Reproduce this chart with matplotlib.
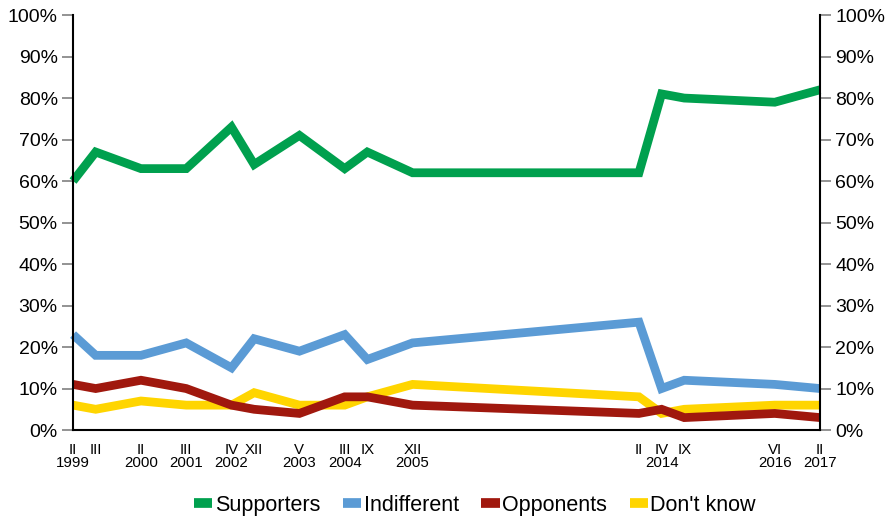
import matplotlib
matplotlib.use("Agg")
import matplotlib.pyplot as plt
from matplotlib.lines import Line2D

plt.rcParams['font.family'] = ['Liberation Sans', 'DejaVu Sans']

# slot index of each survey on the category axis (34 slots, 0..33)
slots = [0, 1, 3, 5, 7, 8, 10, 12, 13, 15, 25, 26, 27, 31, 33]
months = ["II", "III", "II", "III", "IV", "XII", "V", "III", "IX", "XII",
          "II", "IV", "IX", "VI", "II"]
years = ["1999", "", "2000", "2001", "2002", "", "2003", "2004", "", "2005",
         "", "2014", "", "2016", "2017"]

supporters = [60, 67, 63, 63, 73, 64, 71, 63, 67, 62, 62, 81, 80, 79, 82]
indifferent = [23, 18, 18, 21, 15, 22, 19, 23, 17, 21, 26, 10, 12, 11, 10]
opponents = [11, 10, 12, 10, 6, 5, 4, 8, 8, 6, 4, 5, 3, 4, 3]
dont_know = [6, 5, 7, 6, 6, 9, 6, 6, 8, 11, 8, 4, 5, 6, 6]

series = [("Supporters", supporters, "#00A04E"),
          ("Indifferent", indifferent, "#5B9BD5"),
          ("Opponents", opponents, "#A0180E"),
          ("Don't know", dont_know, "#FFD500")]

yticks = list(range(0, 101, 10))

fig = plt.figure(figsize=(8.93, 5.2), dpi=100)
ax = fig.add_axes([0.0818, 0.173, 0.8365, 0.798])

# draw in reverse so supporters on top
for name, vals, col in reversed(series):
    ax.plot(slots, vals, color=col, lw=6.3, solid_joinstyle='miter',
            solid_capstyle='butt', clip_on=False)

ax.set_xlim(0, 33)
ax.set_ylim(0, 100)
ax.set_yticks(yticks)
ax.set_yticklabels([f"{v}%" for v in yticks], fontsize=14)
ax.tick_params(axis='y', which='both', left=True, right=True, labelleft=True,
               labelright=True, direction='out', length=8, width=1.2,
               color='#808080', pad=3)
ax.spines['top'].set_visible(False)
for s in ['left', 'right', 'bottom']:
    ax.spines[s].set_color('black')
    ax.spines[s].set_linewidth(1.5)

ax.set_xticks(slots)
ax.set_xticklabels(months, fontsize=10.8)
ax.tick_params(axis='x', length=0, pad=9)

for x, y in zip(slots, years):
    if y:
        ax.annotate(y, xy=(x, 0), xycoords=('data', 'axes fraction'),
                    xytext=(0, -24), textcoords='offset points',
                    ha='center', va='center', fontsize=10.8,
                    annotation_clip=False)

handles = [Line2D([0], [0], color=c, lw=7, solid_capstyle='butt') for _, _, c in series]
fig.legend(handles, [n for n, _, _ in series], loc='center',
           bbox_to_anchor=(0.532, 0.028), ncol=4, frameon=False, fontsize=15.5,
           handlelength=0.84, handletextpad=0.12, columnspacing=1.05,
           borderpad=0, borderaxespad=0)

fig.savefig("out.png", dpi=100)
